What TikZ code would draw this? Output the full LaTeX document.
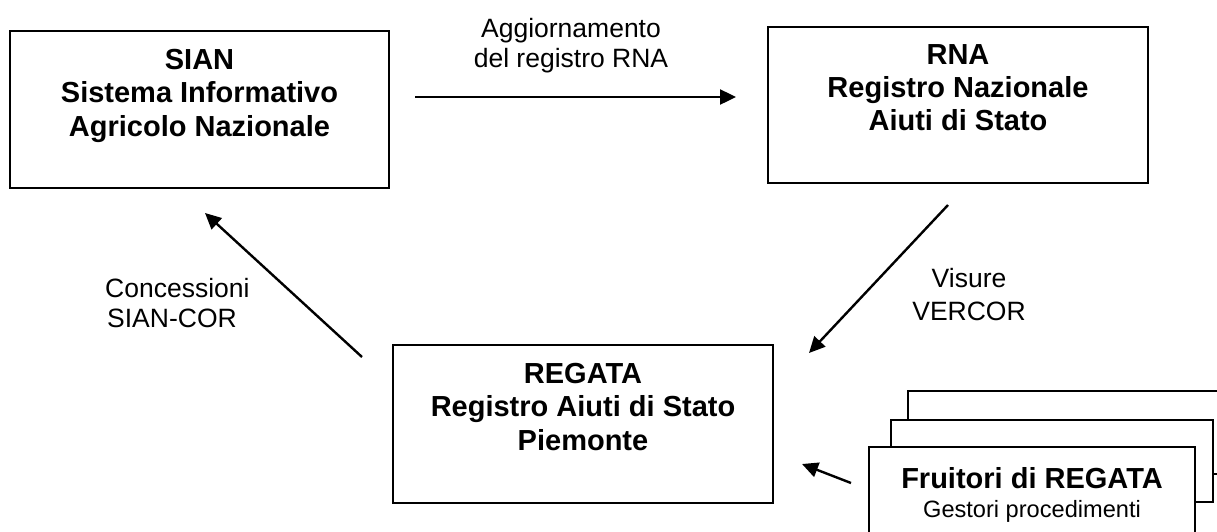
\documentclass[tikz,border=0pt]{standalone}
\usepackage{fontspec}
\setmainfont{Liberation Sans}
\usetikzlibrary{arrows.meta}
\tikzset{
  box/.style={draw=black, line width=2pt, fill=white, rectangle, inner sep=0pt, outer sep=0pt, anchor=north west},
  boxtext/.style={anchor=north, inner sep=0pt, align=center, font=\bfseries\fontsize{29}{33.4}\selectfont},
  lbl/.style={inner sep=0pt, font=\fontsize{26.5}{30.5}\selectfont},
  arr/.style={line width=2.4pt, -{Triangle[length=16pt,width=15pt]}}
}
\begin{document}
\begin{tikzpicture}[x=1pt,y=-1pt]
\useasboundingbox (0,0) rectangle (1217,531);
\clip (0,0) rectangle (1217,531);
\fill[white] (0,0) rectangle (1217,531);
% boxes
\node[box, minimum width=379pt, minimum height=157pt] (sian) at (10,31) {};
\node[box, minimum width=380pt, minimum height=156pt] (rna) at (768,27) {};
\node[box, minimum width=380pt, minimum height=158pt] (regata) at (393,345) {};
% stacked boxes
\node[box, minimum width=330pt, minimum height=83pt] (back) at (908,391) {};
\node[box, minimum width=322pt, minimum height=82pt] (mid) at (891,420) {};
\node[box, minimum width=326pt, minimum height=110pt] (front) at (869,447) {};
% box texts
\node[boxtext] (siant) at ([yshift=-18pt]sian.north) {SIAN\\Sistema Informativo\\Agricolo Nazionale};
\node[boxtext] (rnat) at ([yshift=-17pt]rna.north) {RNA\\Registro Nazionale\\Aiuti di Stato};
\node[boxtext] (regatat) at ([yshift=-18pt]regata.north) {REGATA\\Registro Aiuti di Stato\\Piemonte};
\node[boxtext] (frt) at ([yshift=-20pt]front.north) {Fruitori di REGATA};
\node[anchor=base, inner sep=0pt, font=\fontsize{23.6}{28}\selectfont] (frs) at ([yshift=-70pt]front.north) {Gestori procedimenti};
% connectors
\draw[arr] ([shift={(26,-12.5)}]sian.east) -- ([shift={(-32,-8)}]rna.west);
\draw[arr] ([shift={(-10,22)}]rna.south) -- ([shift={(36,8)}]regata.north east);
\draw[arr] ([shift={(-31,12)}]regata.north west) -- ([shift={(5.5,25)}]sian.south);
\draw[arr] ([shift={(-18,36)}]front.north west) -- ([shift={(29,119)}]regata.north east);
% labels
\node[lbl, anchor=north, align=center] (lagg) at (571,18) {Aggiornamento\\del registro RNA};
\node[lbl, anchor=north west, align=left] (lconc) at (105,278) {Concessioni\\\hspace{2pt}SIAN-COR};
\node[lbl, anchor=north, align=center, font=\fontsize{26.5}{33}\selectfont] (lvis) at (969,268) {Visure\\VERCOR};
\end{tikzpicture}
\end{document}
